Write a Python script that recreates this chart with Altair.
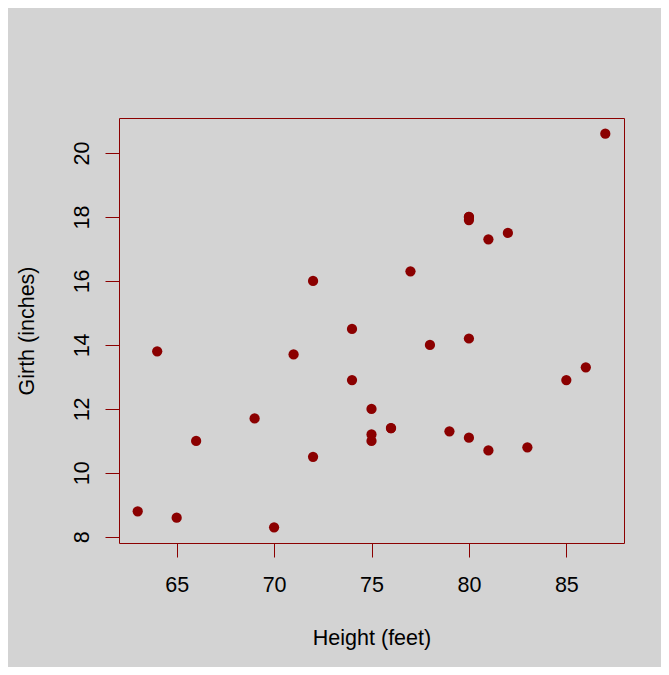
import altair as alt
import pandas as pd

height = [70, 65, 63, 72, 81, 83, 66, 75, 80, 75, 79, 76, 76, 69, 75, 74, 85, 86, 71, 64, 78, 80, 74, 72, 77, 81, 82, 80, 80, 80, 87]
girth = [8.3, 8.6, 8.8, 10.5, 10.7, 10.8, 11.0, 11.0, 11.1, 11.2, 11.3, 11.4, 11.4, 11.7, 12.0, 12.9, 12.9, 13.3, 13.7, 13.8, 14.0, 14.2, 14.5, 16.0, 16.3, 17.3, 17.5, 17.9, 18.0, 18.0, 20.6]
x_ticks = [65, 70, 75, 80, 85]
y_ticks = [8, 10, 12, 14, 16, 18, 20]

df = pd.DataFrame({"Height": height, "Girth": girth})

FONT = "Liberation Sans"
RED = "#8B0000"

chart = alt.Chart(df).mark_circle(size=105, opacity=1, color=RED).encode(
    x=alt.X("Height:Q",
            scale=alt.Scale(domain=[62.04, 87.96], nice=False, zero=False),
            axis=alt.Axis(values=x_ticks, title="Height (feet)", grid=False, domain=False,
                          tickColor=RED, tickSize=14, tickWidth=1,
                          labelFont=FONT, labelFontSize=21.5, labelColor="black",
                          labelBaseline="alphabetic", labelPadding=34, labelAlign="center",
                          titleFont=FONT, titleFontSize=21.5, titleFontWeight="normal",
                          titleColor="black", titleBaseline="alphabetic", titleY=101)),
    y=alt.Y("Girth:Q",
            scale=alt.Scale(domain=[7.808, 21.092], nice=False, zero=False),
            axis=alt.Axis(values=y_ticks, title="Girth (inches)", grid=False, domain=False,
                          tickColor=RED, tickSize=14, tickWidth=1,
                          labelFont=FONT, labelFontSize=21.5, labelColor="black",
                          labelAngle=-90, labelAlign="center", labelBaseline="alphabetic",
                          labelPadding=17,
                          titleFont=FONT, titleFontSize=21.5, titleFontWeight="normal",
                          titleColor="black", titleBaseline="alphabetic", titleAlign="center",
                          titleAngle=-90, titleX=-86)),
).properties(
    width=505,
    height=425,
    padding={"left": 111, "top": 110, "right": 37, "bottom": 124},
    autosize=alt.AutoSizeParams(type="none"),
).configure(background="#d3d3d3").configure_view(stroke=RED, strokeWidth=1)

chart.save("out.html", embed_options={"renderer": "svg", "actions": False})
